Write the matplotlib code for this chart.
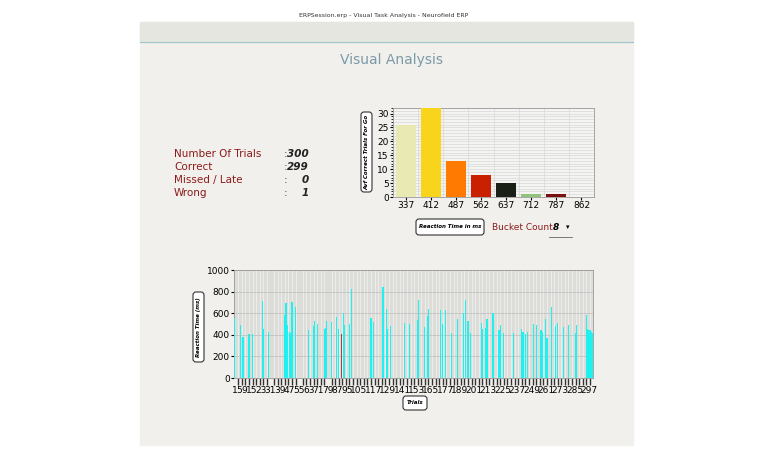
import matplotlib
matplotlib.use("Agg")
import matplotlib.pyplot as plt
from matplotlib.patches import Rectangle, FancyBboxPatch
import numpy as np

W, H = 768, 450
bucket_labels = ["337", "412", "487", "562", "637", "712", "787", "862"]
bucket_counts = [26, 32, 13, 8, 5, 1, 1, 0]
bucket_colors = ["#e9e9b4", "#f8d41c", "#ff7a00", "#c92000", "#1b2016", "#93c47d", "#7a1010", "#cccccc"]

stat_names = ["Number Of Trials", "Correct", "Missed / Late", "Wrong"]
stat_values = ["300", "299", "0", "1"]

n_trials = 300
trial_ids = [1, 6, 8, 13, 16, 24, 25, 29, 43, 44, 45, 47, 48, 49, 52, 63, 67, 68, 70, 76, 77, 78, 82, 86, 88,
             90, 92, 93, 97, 99, 115, 117, 125, 128, 129, 131, 143, 147, 154, 155, 160, 162, 163, 173, 175,
             177, 182, 187, 192, 194, 196, 198, 207, 208, 211, 212, 217, 222, 223, 226, 234, 241, 242, 244,
             246, 251, 253, 257, 258, 261, 262, 266, 269, 271, 276, 280, 286, 287, 295, 296, 297, 298, 299, 300]
trial_rts = [555, 490, 380, 410, 410, 710, 450, 430, 580, 690, 490, 430, 420, 700, 660, 440, 480, 530, 500,
             450, 460, 525, 520, 565, 455, 410, 600, 490, 500, 820, 560, 520, 840, 640, 450, 480, 510, 500,
             540, 720, 470, 570, 640, 630, 500, 630, 420, 550, 600, 720, 530, 420, 510, 450, 460, 550, 600,
             440, 490, 420, 420, 450, 430, 410, 430, 500, 490, 440, 430, 550, 370, 660, 480, 510, 470, 490,
             420, 490, 580, 450, 440, 440, 430, 420]
wrong_trial = 90
x_tick_labels = [1, 5, 9, 15, 23, 31, 39, 47, 55, 63, 71, 79, 87, 95, 105, 117, 129, 141, 153, 165, 177,
                 189, 201, 213, 225, 237, 249, 261, 273, 285, 297]

fig = plt.figure(figsize=(W / 100, H / 100), dpi=100)
fig.patch.set_facecolor("white")

def fx(x): return x / W
def fy(y): return 1 - y / H

bg = fig.add_axes([0, 0, 1, 1]); bg.set_xlim(0, W); bg.set_ylim(H, 0); bg.axis("off")
bg.add_patch(Rectangle((140, 22), 493, 423, color="#f1f0ec", zorder=0))
bg.add_patch(Rectangle((140, 22), 493, 20, color="#e6e6e0", zorder=1))
bg.plot([140, 633], [42, 42], color="#9fc4cc", lw=0.8)
bg.text(384, 15, "ERPSession.erp - Visual Task Analysis - Neurofield ERP", ha="center", va="center", fontsize=4.5, color="#333333")
bg.text(392, 60, "Visual Analysis", ha="center", va="center", fontsize=10, color="#7a9aa8")
for i, (n, v) in enumerate(zip(stat_names, stat_values)):
    y = 154 + i * 13
    bg.text(174, y, n, fontsize=7.5, color="#8b1a1a", va="center")
    bg.text(284, y, ":", fontsize=7.5, color="#444444", va="center")
    bg.text(309, y, v, fontsize=7.5, color="#222222", va="center", ha="right", style="italic", fontweight="bold")

def boxlabel(x, y, w, h, txt, rot=0):
    bg.add_patch(FancyBboxPatch((x, y), w, h, boxstyle="round,pad=0,rounding_size=3", fc="white", ec="#333333", lw=0.8))
    bg.text(x + w / 2, y + h / 2, txt, ha="center", va="center", fontsize=4, style="italic", fontweight="bold", rotation=rot)

boxlabel(361, 112, 11, 80, "Avf Correct Trials For Go", 90)
boxlabel(416, 219, 68, 16, "Reaction Time in ms")
bg.text(492, 228, "Bucket Count:", fontsize=6.5, color="#8b1a1a", va="center")
bg.text(553, 228, "8", fontsize=6.5, style="italic", fontweight="bold", va="center")
bg.text(566, 227, "▾", fontsize=5, va="center")
bg.plot([549, 572], [237, 237], color="#666666", lw=0.6)
boxlabel(193, 292, 11, 70, "Reaction Time (ms)", 90)
boxlabel(403, 396, 24, 14, "Trials")

# histogram
ax1 = fig.add_axes([fx(393), fy(197), fx(594 - 393), fy(108) - fy(197)])
ax1.set_facecolor("#f4f4f2")
ax1.set_axisbelow(True)
xs = np.arange(len(bucket_labels))
ax1.bar(xs, bucket_counts, width=0.8, color=bucket_colors, zorder=3)
ax1.set_xlim(-0.5, len(bucket_labels) - 0.5); ax1.set_ylim(0, 32)
ax1.set_xticks(xs); ax1.set_xticklabels(bucket_labels, fontsize=6.5)
ax1.set_yticks(range(0, 31, 5)); ax1.tick_params(labelsize=6.5, length=2, pad=1)
ax1.set_yticks(range(0, 33, 1), minor=True)
ax1.tick_params(axis="y", which="minor", length=1.5)
ax1.grid(True, which="both", axis="y", color="#d8d8d8", lw=0.5)
ax1.set_xticks(np.arange(-0.5, 8, 0.5), minor=True)
ax1.tick_params(axis="x", which="minor", length=0)
ax1.grid(True, which="minor", axis="x", color="#d8d8d8", lw=0.5)
for s in ax1.spines.values(): s.set_color("#999999"); s.set_linewidth(0.6)

# trials chart
rts = np.zeros(n_trials)
for t, v in zip(trial_ids, trial_rts): rts[t - 1] = v
colors = ["#c0392b" if t == wrong_trial else "#1ff0f0" for t in range(1, n_trials + 1)]
ax2 = fig.add_axes([fx(234), fy(378), fx(593 - 234), fy(270) - fy(378)])
ax2.set_facecolor("#dcdcd8")
ax2.set_axisbelow(True)
ax2.bar(np.arange(1, n_trials + 1), rts, width=1.0, color=colors, linewidth=0, zorder=3)
ax2.set_xlim(0.5, n_trials + 0.5); ax2.set_ylim(0, 1000)
ax2.set_yticks(range(0, 1001, 200)); ax2.tick_params(axis="y", labelsize=6.5, length=2, pad=1)
ax2.set_xticks(np.arange(1, n_trials + 1, 3), minor=True)
ax2.grid(True, which="minor", axis="x", color="#f4f4f4", lw=0.5)
ax2.grid(True, which="major", axis="y", color="#bdbdbd", lw=0.5)
ax2.set_xticks(x_tick_labels); ax2.set_xticklabels([str(v) for v in x_tick_labels], fontsize=6.5)
ax2.tick_params(axis="x", which="major", length=0, pad=6)
ax2.tick_params(axis="x", which="minor", length=5, width=1, color="#333333")
for s in ax2.spines.values(): s.set_color("#999999"); s.set_linewidth(0.6)

fig.savefig("out.png", dpi=100, facecolor=fig.get_facecolor())
